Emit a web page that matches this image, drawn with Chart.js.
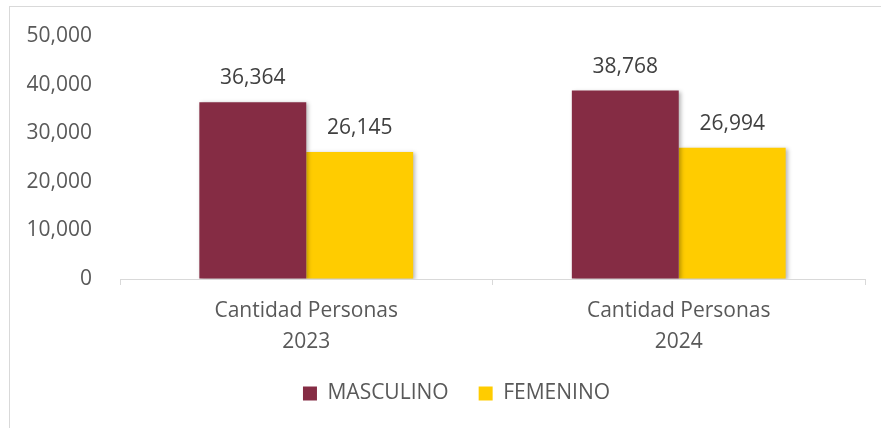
<!DOCTYPE html>
<html>
<head>
<meta charset="utf-8">
<script src="https://cdn.jsdelivr.net/npm/chart.js@4"></script>
<style>
  html, body { margin: 0; padding: 0; background: #fff; overflow: hidden; }
  .frame {
    position: absolute; left: 9px; top: 6px;
    width: 880px; height: 430px;
    border: 1px solid #d9d9d9; box-sizing: border-box;
  }
  .frame canvas { display: block; }
</style>
</head>
<body>
<div class="frame"><canvas id="chart" width="879" height="428"></canvas></div>
<script>
// Data
const categories = [['Cantidad Personas', '2023'], ['Cantidad Personas', '2024']];
const masculino = [36364, 38768];
const femenino = [26145, 26994];
const yTicks = [0, 10000, 20000, 30000, 40000, 50000];

const fmt = v => v.toLocaleString('en-US');
const TEXT = '#595959';
const FONT = "'Open Sans', sans-serif";
const SIZE = 21;

// soft drop shadow under the bars
const barShadow = {
  id: 'barShadow',
  beforeDatasetsDraw(chart) {
    const ctx = chart.ctx;
    ctx.save();
    ctx.shadowColor = 'rgba(0,0,0,0.28)';
    ctx.shadowBlur = 4;
    ctx.shadowOffsetX = 2;
    ctx.shadowOffsetY = 1;
  },
  afterDatasetsDraw(chart) { chart.ctx.restore(); }
};

// value labels above each bar
const valueLabels = {
  id: 'valueLabels',
  afterDatasetsDraw(chart) {
    const ctx = chart.ctx;
    ctx.save();
    ctx.font = SIZE + 'px ' + FONT;
    ctx.fillStyle = '#404040';
    ctx.textAlign = 'center';
    ctx.textBaseline = 'middle';
    chart.data.datasets.forEach((ds, i) => {
      chart.getDatasetMeta(i).data.forEach((bar, j) => {
        ctx.fillText(fmt(ds.data[j]), bar.x, bar.y - 24);
      });
    });
    ctx.restore();
  }
};

// the legend padding gives the wide gap between items; shift the whole
// legend up/right so it sits where the original one does
const legendShift = {
  id: 'legendShift',
  beforeLayout(chart) {
    const lg = chart.legend;
    if (!lg || lg._shifted) return;
    const draw = lg.draw.bind(lg);
    lg.draw = function () {
      this.ctx.save();
      this.ctx.translate(19, -16);
      draw();
      this.ctx.restore();
    };
    lg._shifted = true;
  }
};

new Chart(document.getElementById('chart'), {
  type: 'bar',
  data: {
    labels: categories,
    datasets: [
      { label: 'MASCULINO', data: masculino, backgroundColor: '#852C44' },
      { label: 'FEMENINO', data: femenino, backgroundColor: '#FFCC00' }
    ]
  },
  options: {
    responsive: false,
    animation: false,
    layout: { padding: { left: 0, right: 24, top: 29, bottom: 5 } },
    datasets: { bar: { categoryPercentage: 0.574, barPercentage: 1.0 } },
    plugins: {
      tooltip: { enabled: false },
      legend: {
        position: 'bottom',
        labels: {
          color: TEXT, font: { family: FONT, size: SIZE },
          boxWidth: 14, boxHeight: 14, padding: 30
        }
      }
    },
    scales: {
      x: {
        grid: { drawOnChartArea: false, drawTicks: true, tickLength: 6, color: '#d9d9d9' },
        border: { color: '#d9d9d9', width: 1 },
        ticks: { color: TEXT, font: { family: FONT, size: SIZE, lineHeight: 1.476 }, padding: 11 }
      },
      y: {
        min: 0, max: 50000,
        afterBuildTicks: axis => { axis.ticks = yTicks.map(v => ({ value: v })); },
        afterFit: axis => { axis.width = 110; },
        // invisible tick marks keep the labels away from the plot without inflating top padding
        grid: { display: true, drawOnChartArea: false, drawTicks: true, tickLength: 26, color: 'rgba(0,0,0,0)' },
        border: { display: false },
        ticks: { color: TEXT, font: { family: FONT, size: SIZE }, padding: 2, callback: v => fmt(v) }
      }
    }
  },
  plugins: [barShadow, valueLabels, legendShift]
});
</script>
</body>
</html>
